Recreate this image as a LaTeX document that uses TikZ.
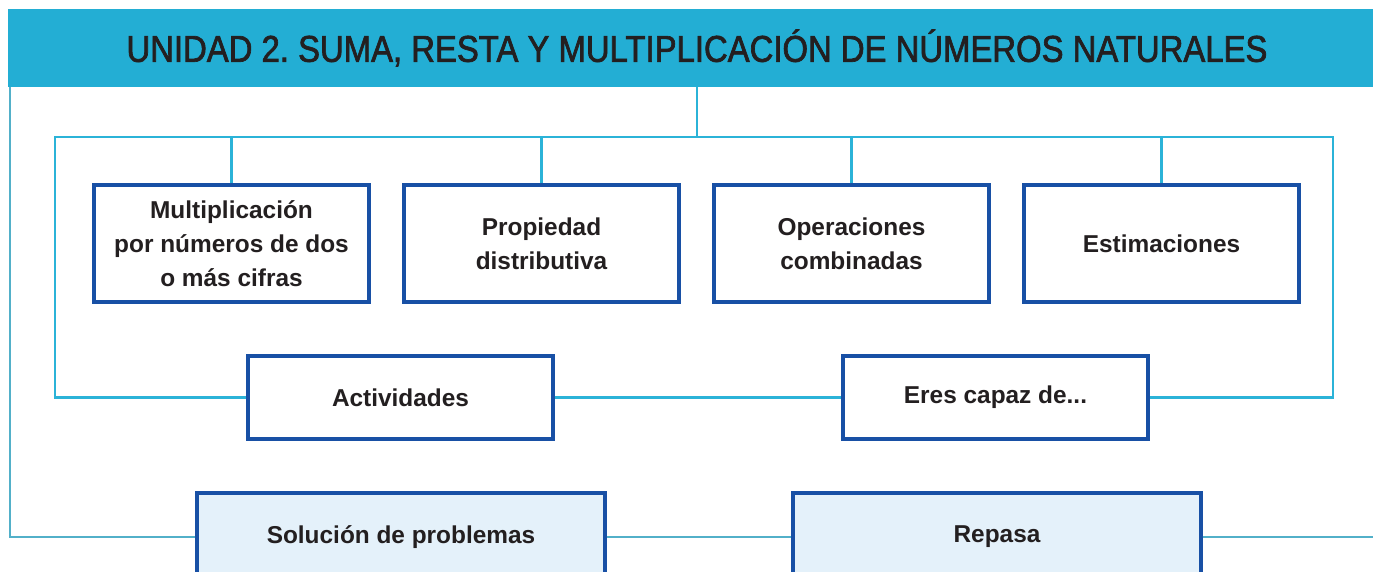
\documentclass[tikz,border=0pt]{standalone}
\usepackage{fontspec}
\setmainfont{Liberation Sans}
\newfontfamily\titlefont[FakeStretch=0.88, FakeBold=1.8]{Liberation Sans}
\usetikzlibrary{positioning}
\definecolor{bannerblue}{HTML}{23AED4}
\definecolor{linecyan}{HTML}{2BB3D8}
\definecolor{linegrey}{HTML}{52B0C9}
\definecolor{boxblue}{HTML}{1850A5}
\definecolor{boxfill}{HTML}{E4F1FA}
\definecolor{inkdark}{HTML}{231F20}

\tikzset{
  topicbox/.style={draw=boxblue, line width=2.5pt, fill=white, inner sep=0pt,
    minimum width=206.25pt, minimum height=87.75pt, align=center, text=inkdark,
    font=\fontsize{18.3}{25.5}\selectfont\bfseries},
  taskbox/.style={topicbox, minimum width=228.75pt, minimum height=62.25pt},
  reviewbox/.style={topicbox, fill=boxfill, minimum width=306pt, minimum height=66pt},
  link/.style={draw=linecyan, line width=1.9pt},
  outerlink/.style={draw=linegrey, line width=1.9pt},
}

\begin{document}
\begin{tikzpicture}[x=0.75pt, y=-0.75pt]
  \clip (0,0) rectangle (1373,571);
  \fill[white] (0,0) rectangle (1373,571);
  \node[fill=bannerblue, minimum width=1033.5pt, minimum height=58.5pt, inner sep=0pt,
    text=inkdark, font=\titlefont\fontsize{28}{30}\selectfont\frenchspacing] (banner) at (697,48)
    {UNIDAD 2. SUMA, RESTA Y MULTIPLICACIÓN DE NÚMEROS NATURALES};
  % coordinates of the frame
  \coordinate (hub) at (697,137);
  \coordinate (frameL) at (55,137);
  \coordinate (frameR) at (1333,137);
  \coordinate (outerL) at (10,87);
  \coordinate (outerR) at (1390,537);
  % topics
  \node[topicbox] (mult) at (231.5,243.5) {Multiplicación\\por números de dos\\o más cifras};
  \node[topicbox] (prop) at (541.5,243.5) {Propiedad\\distributiva};
  \node[topicbox] (oper) at (851.5,243.5) {Operaciones\\combinadas};
  \node[topicbox] (esti) at (1161.5,243.5) {Estimaciones};
  % activities
  \node[taskbox] (activ) at (400.5,397.5) {Actividades};
  \node[taskbox] (eres) at (995.5,397.5) {Eres capaz de...};
  % review
  \node[reviewbox] (solu) at (401,537) {Solución de problemas};
  \node[reviewbox] (repasa) at (997,537) {Repasa};
  % connectors
  \draw[link] (banner.south) -- (hub);
  \draw[link] (activ.west) -| (frameL) -- (frameR) |- (eres.east);
  \draw[link] (activ.east) -- (eres.west);
  \foreach \t in {mult,prop,oper,esti}
    \draw[link] (\t.north) -- (\t.north |- hub);
  \draw[outerlink] (outerL) |- (solu.west);
  \draw[outerlink] (solu.east) -- (repasa.west);
  \draw[outerlink] (repasa.east) -- (outerR);
\end{tikzpicture}
\end{document}
